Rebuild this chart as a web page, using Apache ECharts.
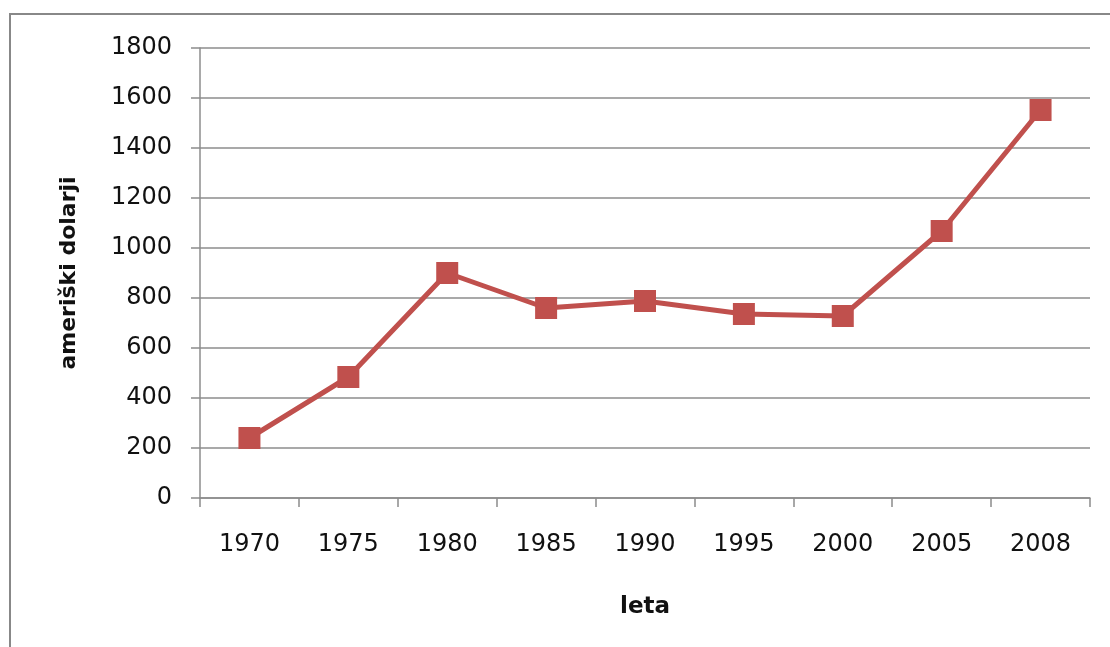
<!DOCTYPE html>
<html>
<head>
<meta charset="utf-8">
<script src="https://cdn.jsdelivr.net/npm/echarts@6/dist/echarts.min.js"></script>
<style>
    html, body { margin: 0; padding: 0; background: white; }
    #chart { width: 1110px; height: 647px; }
</style>
</head>
<body>
<div id="chart"></div>
<script>
    // podatki
    const years = ['1970', '1975', '1980', '1985', '1990', '1995', '2000', '2005', '2008'];
    const dollars = [240, 484, 900, 760, 788, 736, 728, 1068, 1552];
    const yTicks = { min: 0, max: 1800, interval: 200 };

    const font = '"DejaVu Sans", sans-serif';
    const gridColor = '#8c8c8c';

    let myChart = echarts.init(document.getElementById('chart'));
    myChart.setOption({
        animation: false,
        backgroundColor: '#fff',
        graphic: [{
            type: 'rect',
            shape: { x: 10, y: 14, width: 1200, height: 700 },
            style: { fill: 'none', stroke: '#888', lineWidth: 2 }
        }],
        grid: { left: 200, right: 20, top: 48, bottom: 149 },
        xAxis: {
            type: 'category',
            data: years,
            name: 'leta',
            nameLocation: 'middle',
            nameGap: 98,
            nameTextStyle: { fontFamily: font, fontSize: 23, fontWeight: 'bold', color: '#111' },
            axisLine: { lineStyle: { color: gridColor, width: 1.5 } },
            axisTick: { show: true, length: 9, lineStyle: { color: gridColor, width: 1.5 } },
            axisLabel: { fontFamily: font, fontSize: 24, color: '#111', margin: 35 }
        },
        yAxis: {
            type: 'value',
            min: yTicks.min,
            max: yTicks.max,
            interval: yTicks.interval,
            name: 'ameriški dolarji',
            nameLocation: 'middle',
            nameGap: 120,
            nameTextStyle: { fontFamily: font, fontSize: 22, fontWeight: 'bold', color: '#111' },
            axisLine: { show: true, lineStyle: { color: gridColor, width: 1.5 } },
            axisTick: { show: true, length: 9, lineStyle: { color: gridColor, width: 1.5 } },
            axisLabel: { fontFamily: font, fontSize: 24, color: '#111', margin: 28, formatter: v => String(v) },
            splitLine: { lineStyle: { color: gridColor, width: 1.5 } }
        },
        series: [{
            type: 'line',
            data: dollars,
            symbol: 'rect',
            symbolSize: 22,
            itemStyle: { color: '#c0504d' },
            lineStyle: { color: '#c0504d', width: 5 }
        }]
    });
</script>
</body>
</html>
